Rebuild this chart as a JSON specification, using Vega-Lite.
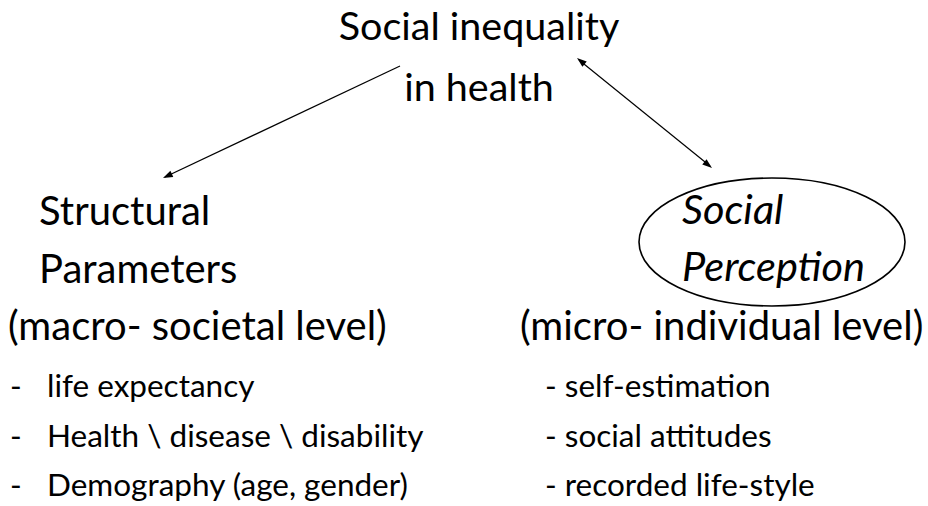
{
  "$schema": "https://vega.github.io/schema/vega-lite/v6.json",
  "width": 928,
  "height": 506,
  "autosize": {"type": "fit", "contains": "padding"},
  "padding": 0,
  "background": "white",
  "config": {"view": {"stroke": null}},
  "datasets": {
    "centerText": [
      {"label": "Social inequality", "x": 479, "y": 40},
      {"label": "in health", "x": 479, "y": 101}
    ],
    "headText": [
      {"label": "Structural", "x": 39, "y": 225},
      {"label": "Parameters", "x": 39, "y": 283},
      {"label": "(macro- societal level)", "x": 8, "y": 340},
      {"label": "(micro- individual level)", "x": 520, "y": 340}
    ],
    "listText": [
      {"label": "-", "x": 10, "y": 397},
      {"label": "life expectancy", "x": 47, "y": 397},
      {"label": "-", "x": 10, "y": 447},
      {"label": "Health \\ disease \\ disability", "x": 47, "y": 447},
      {"label": "-", "x": 10, "y": 496},
      {"label": "Demography (age, gender)", "x": 47, "y": 496},
      {"label": "- self-estimation", "x": 545, "y": 397},
      {"label": "- social attitudes", "x": 545, "y": 447},
      {"label": "- recorded life-style", "x": 545, "y": 496}
    ],
    "italicText": [
      {"label": "Social", "x": 682, "y": 224},
      {"label": "Perception", "x": 682, "y": 281}
    ],
    "links": [
      {"x": 400, "y": 66, "x2": 165, "y2": 177},
      {"x": 579, "y": 60, "x2": 710, "y2": 166}
    ],
    "headA": [{"x": 163, "y": 178}],
    "headB": [{"x": 712, "y": 168}],
    "headC": [{"x": 577, "y": 58}],
    "oval": [{"x": 772, "y": 242}]
  },
  "encoding": {
    "x": {"field": "x", "type": "quantitative", "scale": {"domain": [0, 928], "nice": false, "zero": false}, "axis": null},
    "y": {"field": "y", "type": "quantitative", "scale": {"domain": [0, 506], "nice": false, "zero": false, "reverse": true}, "axis": null}
  },
  "layer": [
    {
      "data": {"name": "oval"},
      "mark": {"type": "point", "shape": "M-1,0A1,0.481 0 1,1 1,0A1,0.481 0 1,1 -1,0Z", "size": 70756, "filled": false, "stroke": "black", "strokeWidth": 1.6, "opacity": 1}
    },
    {
      "data": {"name": "links"},
      "mark": {"type": "rule", "stroke": "black", "strokeWidth": 1.2},
      "encoding": {
        "x2": {"field": "x2"},
        "y2": {"field": "y2"}
      }
    },
    {
      "data": {"name": "headA"},
      "mark": {"type": "point", "shape": "M0,0L-0.35,1L0.35,1Z", "size": 380, "filled": true, "fill": "black", "opacity": 1, "angle": 245}
    },
    {
      "data": {"name": "headB"},
      "mark": {"type": "point", "shape": "M0,0L-0.35,1L0.35,1Z", "size": 380, "filled": true, "fill": "black", "opacity": 1, "angle": 129}
    },
    {
      "data": {"name": "headC"},
      "mark": {"type": "point", "shape": "M0,0L-0.35,1L0.35,1Z", "size": 380, "filled": true, "fill": "black", "opacity": 1, "angle": 309}
    },
    {
      "data": {"name": "centerText"},
      "mark": {"type": "text", "font": "Lato", "fontSize": 39.5, "align": "center", "baseline": "alphabetic", "color": "black"},
      "encoding": {"text": {"field": "label"}}
    },
    {
      "data": {"name": "headText"},
      "mark": {"type": "text", "font": "Lato", "fontSize": 40, "align": "left", "baseline": "alphabetic", "color": "black"},
      "encoding": {"text": {"field": "label"}}
    },
    {
      "data": {"name": "listText"},
      "mark": {"type": "text", "font": "Lato", "fontSize": 31.5, "align": "left", "baseline": "alphabetic", "color": "black"},
      "encoding": {"text": {"field": "label"}}
    },
    {
      "data": {"name": "italicText"},
      "mark": {"type": "text", "font": "Lato", "fontSize": 41.5, "fontStyle": "italic", "align": "left", "baseline": "alphabetic", "color": "black"},
      "encoding": {"text": {"field": "label"}}
    }
  ]
}
